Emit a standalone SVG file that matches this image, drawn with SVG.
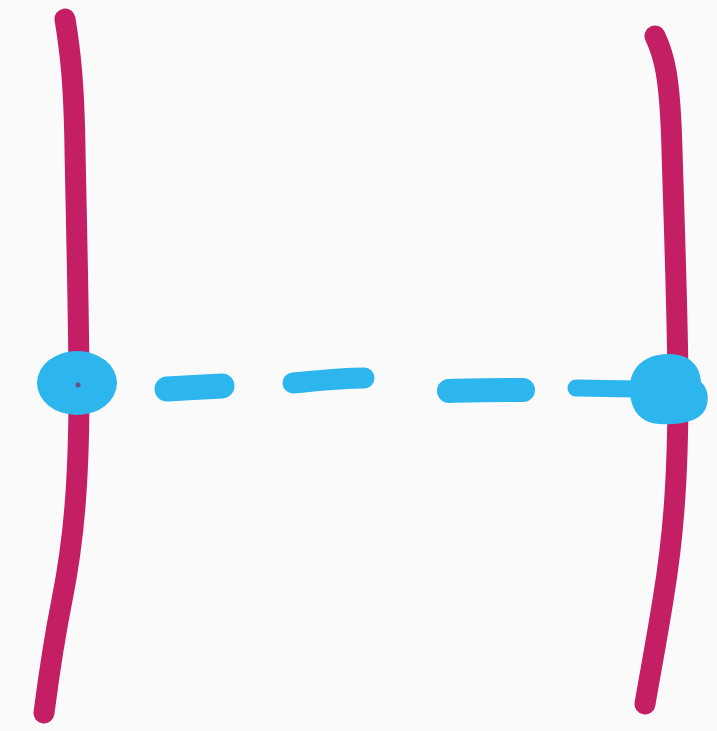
<svg xmlns="http://www.w3.org/2000/svg" width="717" height="731" viewBox="0 0 717 731">
<style>
.pole{fill:none;stroke:#c41e64;stroke-width:21;stroke-linecap:round;stroke-linejoin:round}
.blue{fill:#2db5ee}
.dash{fill:none;stroke:#2db5ee;stroke-linecap:round}
</style>
<rect width="717" height="731" fill="#fafafa"/>
<g id="left-pole">
<path class="pole" d="M65,19 C70,50 74,80 75,150 C77,250 79,330 79,390 C79,480 74,540 62,600 C52,650 47,690 44,713"/>
<ellipse class="blue" cx="77" cy="383" rx="40" ry="32"/>
<circle cx="78" cy="385" r="2.5" fill="#7a2a5a" opacity="0.7"/>
</g>
<g id="right-pole">
<path class="pole" d="M655,36 C664,55 670,75 672,150 C675,250 678,330 678,390 C678,480 673,540 663,600 C655,650 648,685 645,704"/>
<path class="blue" d="M630,392 C628,368 645,354 668,354 C688,354 700,364 701,382 C708,388 710,400 705,410 C698,422 680,425 660,424 C642,423 631,412 630,392 Z"/>
<path class="dash" stroke-width="17" d="M576,388 L635,389"/>
</g>
<g id="connectors">
<path class="dash" stroke-width="25" d="M167,389 C185,388 205,387 222,386"/>
<path class="dash" stroke-width="21" d="M293,383 C315,381 340,378 364,378"/>
<path class="dash" stroke-width="24" d="M449,391 C475,390 500,390 523,390"/>
</g>
</svg>
